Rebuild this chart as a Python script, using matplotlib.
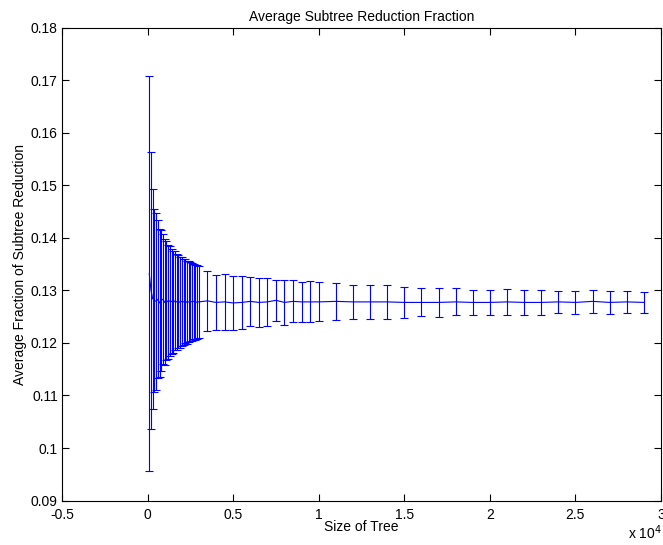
import matplotlib.pyplot as plt
from matplotlib.ticker import FormatStrFormatter

plt.rcParams['font.family'] = ['Liberation Sans', 'DejaVu Sans']

# tamaño del arbol (nodos)
tamanos = ([100 * i for i in range(1, 31)] +
           [3500, 4000, 4500, 5000, 5500, 6000, 6500, 7000, 7500, 8000, 8500, 9000, 9500, 10000] +
           [11000, 12000, 13000, 14000, 15000, 16000, 17000, 18000, 19000, 20000,
            21000, 22000, 23000, 24000, 25000, 26000, 27000, 28000, 29000])

# fraccion media de reduccion
medias = [0.1332, 0.1300, 0.1284, 0.1281, 0.1279, 0.1283, 0.1276, 0.1281, 0.1283, 0.1277,
          0.1281, 0.1278, 0.1280, 0.1279, 0.1277, 0.1280, 0.1278, 0.1279, 0.1277, 0.1279,
          0.1278, 0.1280, 0.1277, 0.1278, 0.1279, 0.1278, 0.1279, 0.1277, 0.1278, 0.1278,
          0.1280, 0.1277, 0.1278, 0.1276, 0.1277, 0.1279, 0.1277, 0.1278, 0.1281, 0.1277,
          0.1279, 0.1278, 0.1278, 0.1278,
          0.1279, 0.1278, 0.1278, 0.1278, 0.1277, 0.1277, 0.1277, 0.1278, 0.1277, 0.1277,
          0.1278, 0.1277, 0.1277, 0.1278, 0.1277, 0.1279, 0.1277, 0.1278, 0.1277]

# desviacion (barras de error)
errores = [0.0376, 0.0263, 0.0209, 0.0174, 0.0168, 0.0150, 0.0141, 0.0134, 0.0124, 0.0120,
           0.0113, 0.0108, 0.0104, 0.0100, 0.0097, 0.0094, 0.0091, 0.0089, 0.0086, 0.0084,
           0.0082, 0.0080, 0.0079, 0.0077, 0.0075, 0.0074, 0.0072, 0.0071, 0.0070, 0.0069,
           0.0057, 0.0053, 0.0054, 0.0052, 0.0050, 0.0047, 0.0047, 0.0045, 0.0039, 0.0043,
           0.0040, 0.0038, 0.0039, 0.0037,
           0.00355, 0.00317, 0.00323, 0.00324, 0.00295, 0.00266, 0.00279, 0.00257, 0.00244, 0.00244,
           0.00248, 0.00232, 0.00235, 0.00216, 0.00219, 0.00222, 0.00213, 0.00216, 0.00203]

x = [t / 1e4 for t in tamanos]

fig = plt.figure(figsize=(6.63, 5.45), dpi=100)
ax = fig.add_axes([0.0935, 0.0815, 0.9035, 0.868])

ax.errorbar(x, medias, yerr=errores, color='blue', linewidth=0.8,
            elinewidth=0.8, capsize=3, capthick=0.8)

ax.set_xlim(-0.5, 3)
ax.set_ylim(0.09, 0.18)
ax.set_xticks([-0.5, 0, 0.5, 1, 1.5, 2, 2.5, 3])
ax.set_yticks([0.09, 0.1, 0.11, 0.12, 0.13, 0.14, 0.15, 0.16, 0.17, 0.18])
ax.xaxis.set_major_formatter(FormatStrFormatter('%g'))
ax.yaxis.set_major_formatter(FormatStrFormatter('%g'))
ax.tick_params(direction='in', top=True, right=True, length=5, labelsize=10)
ax.tick_params(axis='x', pad=5)
ax.tick_params(axis='y', pad=3)

ax.set_title('Average Subtree Reduction Fraction', fontsize=10, pad=5)
ax.set_xlabel('Size of Tree', fontsize=10, labelpad=-1)
ax.set_ylabel('Average Fraction of Subtree Reduction', fontsize=10, labelpad=3)
fig.text(0.998, 0.005, 'x 10$^4$', fontsize=10, ha='right', va='bottom')

plt.savefig('out.png', dpi=100)
